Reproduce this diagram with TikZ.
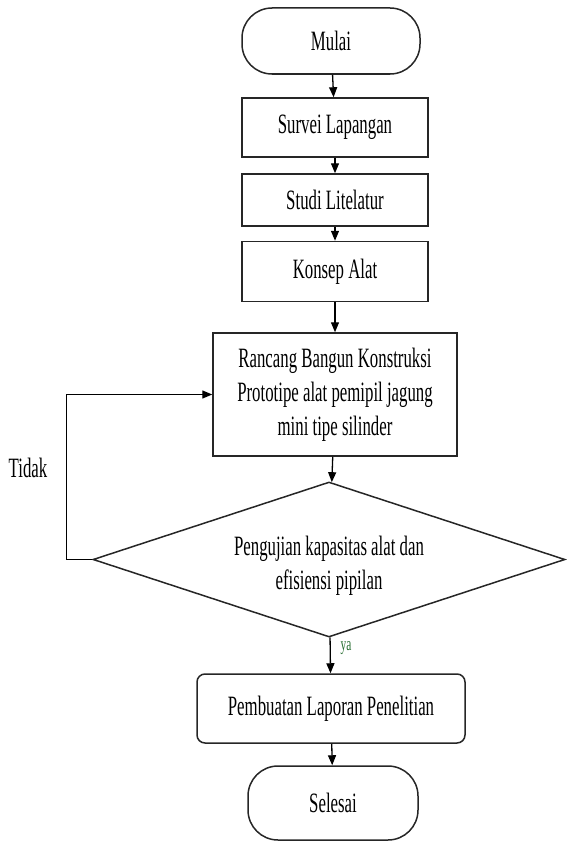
\documentclass[tikz,border=0pt]{standalone}
\usepackage{fontspec}
\setmainfont[FakeStretch=0.6]{Liberation Serif}
\usetikzlibrary{shapes.geometric, arrows.meta, positioning}

\begin{document}
\begin{tikzpicture}[
            x = 1pt, y = -1pt,
            > = {Triangle[length=10pt,width=8pt]},
    boxtext/.style = {font=\fontsize{28}{34}\selectfont, align=center},
   terminal/.style = {boxtext, draw=black!85, line width=1.5pt, rounded corners=30pt,
                      minimum width=178pt, minimum height=66pt},
    process/.style = {boxtext, draw=black!85, line width=1.5pt,
                      minimum width=186pt, minimum height=58pt},
   decision/.style = {draw=black!85, diamond, line width=1.5pt, aspect=3,
                      inner sep=0pt, minimum width=472pt, minimum height=155pt},
       flow/.style = {->, line width=1.3pt}
                        ]
\useasboundingbox (0,0) rectangle (566,843);
% nodes
    \node[terminal] (mulai) at (331,41) {Mulai};
    \node[process, minimum height=59pt] (survei) at (335,127.5) {Survei Lapangan};
    \node[process, minimum height=52pt] (studi) at (335,200) {Studi Litelatur};
    \node[process, minimum height=60pt] (konsep) at (335,271.5) {Konsep Alat};
    \node[process, minimum width=244pt, minimum height=123pt] (rancang) at (335,394.5)
        {Rancang Bangun Konstruksi\\Prototipe alat pemipil jagung\\mini tipe silinder};
    \node[decision, label={[boxtext, yshift=-6pt]center:Pengujian kapasitas alat dan\\efisiensi pipilan}]
        (uji) at (329,559.5) {};
    \node[process, rounded corners=8pt, minimum width=268pt, minimum height=69pt]
        (laporan) at (331,708.5) {Pembuatan Laporan Penelitian};
    \node[terminal, minimum width=170pt, minimum height=74pt] (selesai) at (333,803) {Selesai};
% labels
    \node[boxtext] (tidak) at (28,468) {Tidak};
    \node[font=\fontsize{19}{20}\selectfont, text={rgb,255:red,40;green,110;blue,50}]
        (ya) at (346,648) {ya};
% connectors
    \draw[flow] (mulai) -- (survei);
    \draw[flow] (survei) -- (studi);
    \draw[flow] (studi) -- (konsep);
    \draw[flow] (konsep) -- (rancang);
    \draw[flow] (rancang) -- (uji);
    \draw[flow] (uji) -- (laporan);
    \draw[flow] (laporan) -- (selesai);
    \draw[flow] (uji.west) -- ++(-26,0) |- (rancang.west);
\end{tikzpicture}
\end{document}
